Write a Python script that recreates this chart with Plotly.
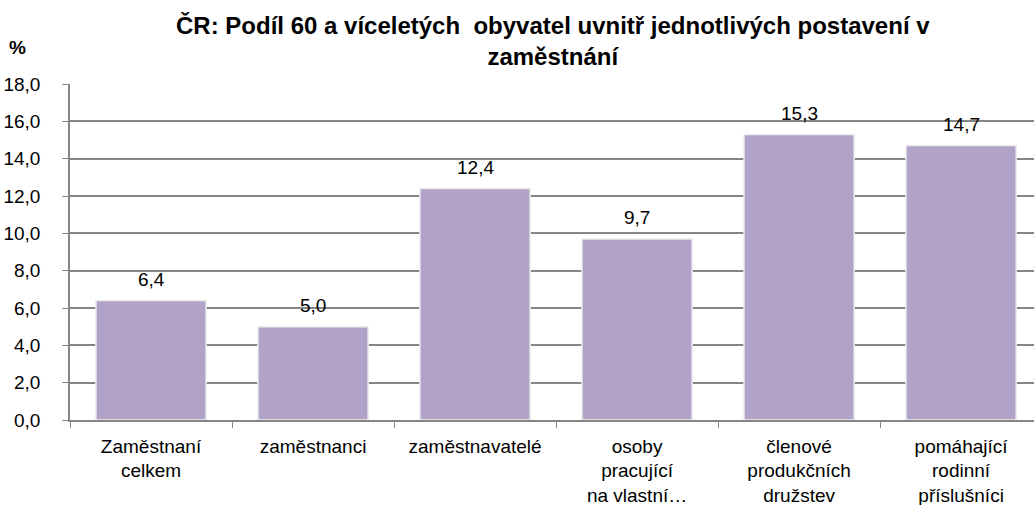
import plotly.graph_objects as go

categories = ["Zaměstnaní<br>celkem", "zaměstnanci", "zaměstnavatelé",
              "osoby<br>pracující<br>na vlastní…", "členové<br>produkčních<br>družstev",
              "pomáhající<br>rodinní<br>příslušníci"]
values = [6.4, 5.0, 12.4, 9.7, 15.3, 14.7]
y_ticks = [0, 2, 4, 6, 8, 10, 12, 14, 16, 18]

FONT = "Liberation Sans, Arial, sans-serif"
fig = go.Figure()
fig.add_trace(go.Bar(
    x=list(range(len(categories))), y=values,
    marker=dict(color="#B1A2C7", line=dict(color="#EDEDED", width=1.5)),
    width=0.68, hoverinfo="skip",
))
for i, v in enumerate(values):
    fig.add_annotation(x=i, y=v, text=f"{v:.1f}".replace(".", ","), showarrow=False,
                       yshift=21, font=dict(family=FONT, size=19, color="#000"))

fig.update_layout(
    width=1034, height=505,
    margin=dict(l=70, r=0, t=84, b=85, autoexpand=False),
    paper_bgcolor="white", plot_bgcolor="white",
    showlegend=False,
    font=dict(family=FONT, size=19, color="#000"),
)
fig.add_annotation(text="<b>ČR: Podíl 60 a víceletých  obyvatel uvnitř jednotlivých postavení v<br>zaměstnání</b>",
                   xref="paper", yref="paper", x=0.501, y=1.220, xanchor="center", yanchor="top",
                   showarrow=False, font=dict(family=FONT, size=24, color="#000"))
fig.add_annotation(text="<b>%</b>", xref="paper", yref="paper", x=-0.054, y=1.110,
                   xanchor="center", yanchor="middle",
                   showarrow=False, font=dict(family=FONT, size=19, color="#000"))
fig.update_xaxes(
    range=[-0.5, 5.45], tickmode="array", tickvals=list(range(len(categories))),
    ticktext=categories, showline=True, linecolor="#868686", linewidth=1.5,
    ticks="", showgrid=False, zeroline=False, tickfont=dict(size=19),
    ticklabelstandoff=8, automargin=False,
    minor=dict(tickmode="array", tickvals=[i - 0.5 for i in range(len(categories) + 1)],
               ticks="outside", ticklen=6, tickcolor="#868686", showgrid=False),
)
fig.update_yaxes(
    range=[0, 18], tickmode="array", tickvals=y_ticks,
    ticktext=[f"{t:.1f}".replace(".", ",") for t in y_ticks],
    showline=True, linecolor="#868686", linewidth=1.5,
    ticks="outside", ticklen=6, tickcolor="#868686",
    showgrid=True, gridcolor="#868686", gridwidth=1.5, zeroline=False,
    tickfont=dict(size=19), ticklabelstandoff=18, automargin=False,
)
fig.write_html("out.html", config={"displayModeBar": False},
               post_script="document.body.style.margin='0';")
